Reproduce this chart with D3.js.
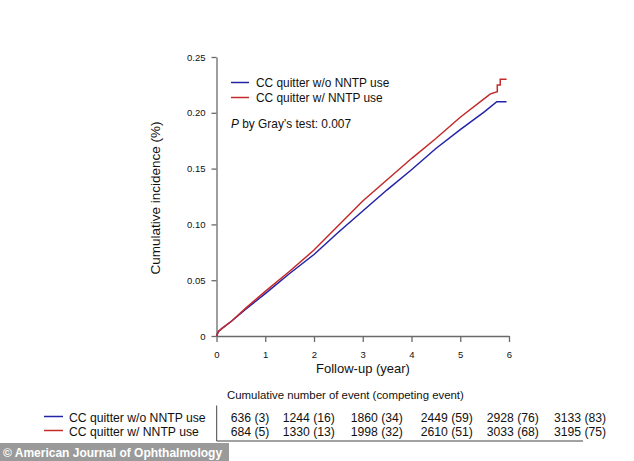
<!DOCTYPE html>
<html>
<head>
<meta charset="utf-8">
<script src="https://cdn.jsdelivr.net/npm/d3@7"></script>
<style>
  body { margin: 0; background: #fff; }
  svg text { font-family: Arial, 'Liberation Sans', sans-serif; fill: #111; }
</style>
</head>
<body>
<svg id="svg" width="634" height="461"></svg>
<script>
// follow-up years and cumulative incidence
const blueYears = [0, 0.04, 0.12, 0.3, 0.6, 1.0, 1.5, 2.0, 2.5, 3.0, 3.5, 4.0, 4.5, 5.0, 5.5, 5.75, 5.95];
const blueValues = [0, 0.004, 0.007, 0.013, 0.024, 0.038, 0.056, 0.073, 0.093, 0.112, 0.131, 0.149, 0.168, 0.185, 0.201, 0.210, 0.210];

const redYears = [0, 0.04, 0.12, 0.3, 0.6, 1.0, 1.5, 2.0, 2.5, 3.0, 3.5, 4.0, 4.5, 5.0, 5.5, 5.62, 5.76, 5.76, 5.82, 5.82, 5.95];
const redValues = [0, 0.004, 0.007, 0.013, 0.025, 0.040, 0.058, 0.077, 0.099, 0.121, 0.140, 0.159, 0.177, 0.196, 0.213, 0.217, 0.219, 0.225, 0.225, 0.230, 0.230];

const seriesNames = ['CC quitter w/o NNTP use', 'CC quitter w/ NNTP use'];
const seriesColors = ['#2323a8', '#c42a2a'];

const xTicks = [0, 1, 2, 3, 4, 5, 6];
const yTicks = [0, 0.05, 0.10, 0.15, 0.20, 0.25];
const yTickLabels = ['0', '0.05', '0.10', '0.15', '0.20', '0.25'];

// cumulative number of event (competing event) per year
const eventsBlue = ['636 (3)', '1244 (16)', '1860 (34)', '2449 (59)', '2928 (76)', '3133 (83)'];
const eventsRed = ['684 (5)', '1330 (13)', '1998 (32)', '2610 (51)', '3033 (68)', '3195 (75)'];
const tableCols = [230.7, 282.7, 350.7, 420.7, 486.7, 554];

const svg = d3.select('#svg');
const axisColor = '#6a6a6a';

const x = d3.scaleLinear().domain([0, 6]).range([216.5, 509]);
const y = d3.scaleLinear().domain([0, 0.25]).range([336, 57]);

const yAxis = d3.axisLeft(y).
tickValues(yTicks).
tickFormat((d, i) => yTickLabels[i]).
tickSize(5).
tickSizeOuter(0).
tickPadding(6);

const xAxis = d3.axisBottom(x).
tickValues(xTicks).
tickFormat(d3.format('d')).
tickSize(6).
tickSizeOuter(0).
tickPadding(9);

const gy = svg.append('g').attr('transform', 'translate(216.5,0)').call(yAxis);
const gx = svg.append('g').attr('transform', 'translate(0,336)').call(xAxis);

[gx, gy].forEach(g => {
  g.selectAll('path, line').attr('stroke', axisColor).attr('stroke-width', 1.3);
  g.selectAll('text').style('font-size', '9.5px').attr('fill', '#111').
  style('font-family', "Arial, 'Liberation Sans', sans-serif");
});

svg.append('text').
attr('x', 363).
attr('y', 373).
attr('text-anchor', 'middle').
style('font-size', '13px').
text('Follow-up (year)');

svg.append('text').
attr('transform', 'translate(159.5,198) rotate(-90)').
attr('text-anchor', 'middle').
style('font-size', '13.5px').
text('Cumulative incidence (%)');

const line = d3.line().x(d => x(d[0])).y(d => y(d[1]));

const series = [
d3.zip(blueYears, blueValues),
d3.zip(redYears, redValues)];


svg.selectAll('.curve').
data(series).
enter().
append('path').
attr('class', 'curve').
attr('d', line).
attr('fill', 'none').
attr('stroke', (d, i) => seriesColors[i]).
attr('stroke-width', 1.5);

// legend
const legend = svg.append('g');
seriesNames.forEach((name, i) => {
  legend.append('line').
  attr('x1', 231).attr('x2', 249).
  attr('y1', 82.5 + i * 15).attr('y2', 82.5 + i * 15).
  attr('stroke', seriesColors[i]).attr('stroke-width', 1.5);
  legend.append('text').
  attr('x', 256).attr('y', 86.8 + i * 15).
  style('font-size', '11.9px').
  text(name);
});

const pText = svg.append('text').attr('x', 231).attr('y', 127.5).style('font-size', '11.9px');
pText.append('tspan').style('font-style', 'italic').text('P');
pText.append('tspan').text(' by Gray\u2019s test: 0.007');

// table of events
svg.append('text').
attr('x', 227).attr('y', 398.5).
style('font-size', '11.4px').
text('Cumulative number of event (competing event)');

const rows = [eventsBlue, eventsRed];
rows.forEach((row, r) => {
  const ry = 421.5 + r * 14;
  svg.append('line').
  attr('x1', 44).attr('x2', 63).
  attr('y1', ry - 5).attr('y2', ry - 5).
  attr('stroke', seriesColors[r]).attr('stroke-width', 1.5);
  svg.append('text').
  attr('x', 69).attr('y', ry).
  style('font-size', '12.2px').
  text(seriesNames[r]);
  svg.selectAll('.cell' + r).
  data(row).
  enter().
  append('text').
  attr('x', (d, i) => tableCols[i]).
  attr('y', ry).
  style('font-size', '12.2px').
  text(d => d);
});

svg.append('path').
attr('d', 'M216.7,405.5V441H583').
attr('fill', 'none').
attr('stroke', '#444').
attr('stroke-width', 1);

// source watermark
svg.append('rect').
attr('x', 0).attr('y', 443).attr('width', 229).attr('height', 18).
attr('fill', '#9a9a9a');
svg.append('text').
attr('x', 3).attr('y', 457).
style('font-size', '12px').
style('font-weight', 'bold').
style('fill', '#fff').
text('\u00a9 American Journal of Ophthalmology');
</script>
</body>
</html>
